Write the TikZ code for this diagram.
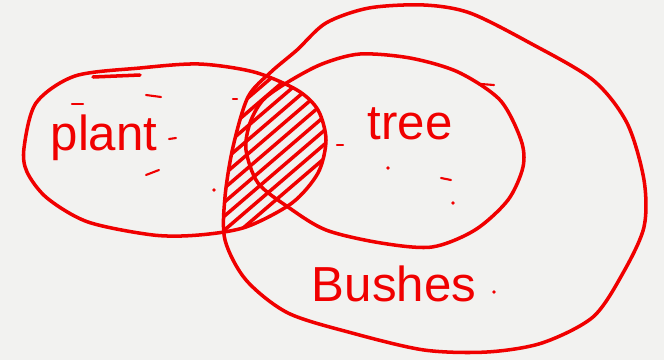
\documentclass[tikz,border=0pt]{standalone}
\usepackage{fontspec}
\setmainfont{Liberation Sans}
\definecolor{pen}{RGB}{240,0,0}
\definecolor{paper}{RGB}{242,242,240}
\newcommand{\plantcurve}{plot[smooth cycle] coordinates {(24,148) (36,103) (75,76) (140,68) (199,64) (254,72) (297,90) (318,110) (326,140) (318,173) (292,203) (246,227) (199,235) (153,235) (88,222) (47,198) (27,172)}}
\newcommand{\treecurve}{plot[smooth cycle] coordinates {(288,82) (322,64) (360,54) (410,58) (458,72) (500,100) (521,140) (523,167) (508,200) (475,230) (432,247) (381,243) (326,230) (288,207) (258,183) (246,150) (250,123) (263,100)}}
\newcommand{\bushcurve}{plot[smooth cycle] coordinates {(326,23) (369,8) (424,5) (470,13) (530,43) (593,80) (627,123) (644,180) (644,227) (623,273) (593,317) (542,343) (487,352) (424,350) (352,333) (288,313) (246,280) (225,240) (225,197) (233,147) (248,97) (271,72) (297,50)}}

\begin{document}
\begin{tikzpicture}[x=0.03cm,y=-0.03cm,line cap=round,line join=round,
  ink/.style={draw=pen,line width=3pt},
  hatch/.style={draw=pen,line width=3pt},
  dashmark/.style={draw=pen,line width=1.8pt},
  word/.style={text=pen,font=\fontsize{42}{44}\selectfont}]
  \fill[paper] (0,0) rectangle (664,360); % Hintergrund
  \useasboundingbox (0,0) rectangle (664,360);

  % Schraffur Schnittmenge
  \begin{scope}
    \clip \plantcurve;
    \clip \bushcurve;
    \foreach \i in {0,...,10}
      \draw[hatch] (200,125+14*\i) -- ++(140,-120);
  \end{scope}

  \draw[ink] \plantcurve; % plant
  \draw[ink] \treecurve;  % tree
  \draw[ink] \bushcurve;  % Bushes
  \draw[ink] (93,77) -- (140,75); % Doppelstrich oben

  % kleine Striche und Punkte
  \draw[dashmark] (72,104) -- (83,104);
  \draw[dashmark] (146,95) -- (161,97);
  \draw[dashmark] (169,139) -- (176,138);
  \draw[dashmark] (146,175) -- (159,170);
  \draw[dashmark] (233,99) -- (237,99);
  \draw[dashmark] (337,145) -- (343,145);
  \draw[dashmark] (441,178) -- (451,180);
  \draw[dashmark] (481,84) -- (494,85);
  \foreach \p in {(388,168),(453,203),(494,292),(214,190)}
    \fill[pen] \p circle (1.8);

  \node[word] (plant)  at (104,138) {plant};
  \node[word] (tree)   at (410,124) {tree};
  \node[word] (bushes) at (394,284) {Bushes};
\end{tikzpicture}
\end{document}
